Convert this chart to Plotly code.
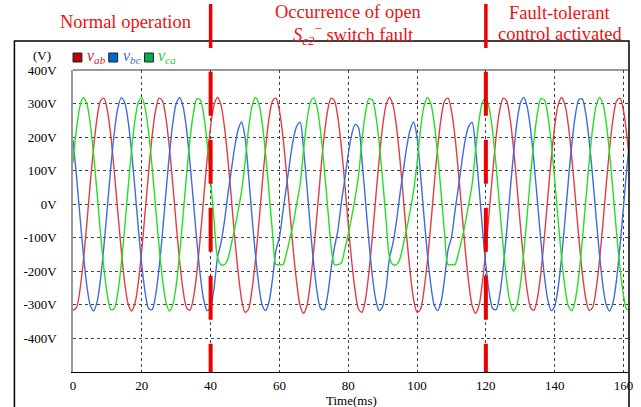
import plotly.graph_objects as go

# ---------------- data ----------------
time_ms = list(range(0, 163))  # 1 ms sampling grid

v_ab = [
    -316, -308, -257, -170, -60, 60, 170, 257, 308, 316,
    279, 203, 98, -20, -135, -232, -296, -318, -296, -232,
    -135, -20, 98, 203, 279, 316, 308, 257, 170, 60,
    -60, -170, -257, -308, -316, -279, -203, -98, 20, 135,
    232, 296, 318, 296, 232, 135, 20, -98, -203, -284,
    -322, -313, -257, -170, -60, 60, 170, 257, 308, 316,
    279, 203, 98, -20, -135, -232, -302, -325, -302, -232,
    -135, -20, 98, 203, 279, 316, 308, 257, 170, 60,
    -60, -170, -257, -313, -322, -284, -203, -98, 20, 135,
    232, 296, 318, 296, 232, 135, 20, -98, -203, -284,
    -322, -313, -257, -170, -60, 60, 170, 257, 308, 316,
    279, 203, 98, -20, -135, -232, -302, -325, -302, -232,
    -135, -20, 98, 203, 279, 316, 308, 257, 170, 60,
    -60, -170, -257, -308, -316, -279, -203, -98, 20, 135,
    232, 296, 318, 296, 232, 135, 20, -98, -203, -279,
    -316, -308, -257, -170, -60, 60, 170, 257, 308, 316,
    279, 203, 98,
]

v_bc = [
    192, 86, -33, -147, -241, -300, -318, -291, -223, -123,
    -7, 111, 213, 285, 317, 304, 249, 159, 47, -73,
    -182, -265, -311, -314, -272, -192, -86, 33, 147, 241,
    300, 318, 291, 223, 123, 7, -111, -213, -285, -317,
    -305, -249, -159, -116, -52, 28, 100, 171, 222, 245,
    199, 90, -34, -148, -240, -301, -317, -290, -222, -136,
    -99, -23, 50, 125, 192, 232, 244, 166, 53, -72,
    -182, -265, -311, -314, -272, -193, -128, -77, 5, 74,
    149, 208, 238, 227, 130, 12, -111, -213, -285, -317,
    -305, -249, -159, -116, -52, 28, 100, 171, 222, 245,
    199, 90, -34, -148, -240, -301, -317, -290, -222, -136,
    -99, -23, 50, 125, 192, 232, 244, 166, 53, -72,
    -182, -265, -311, -314, -272, -192, -86, 33, 147, 241,
    300, 318, 291, 223, 123, 7, -111, -213, -285, -317,
    -304, -249, -159, -47, 73, 182, 265, 311, 314, 272,
    192, 86, -33, -147, -241, -300, -318, -291, -223, -123,
    -7, 111, 213,
]

v_ca = [
    123, 223, 291, 318, 300, 241, 147, 33, -86, -192,
    -272, -314, -311, -265, -182, -73, 47, 159, 249, 304,
    317, 285, 213, 111, -7, -123, -223, -291, -318, -300,
    -241, -147, -33, 86, 192, 272, 314, 311, 265, 182,
    73, -47, -159, -180, -180, -163, -120, -73, -19, 39,
    123, 223, 291, 318, 300, 241, 147, 33, -86, -180,
    -180, -180, -148, -105, -57, 0, 58, 159, 249, 304,
    317, 285, 213, 111, -7, -123, -180, -180, -175, -134,
    -89, -38, 19, 86, 192, 272, 314, 311, 265, 182,
    73, -47, -159, -180, -180, -163, -120, -73, -19, 39,
    123, 223, 291, 318, 300, 241, 147, 33, -86, -180,
    -180, -180, -148, -105, -57, 0, 58, 159, 249, 304,
    317, 285, 213, 111, -7, -123, -223, -291, -318, -300,
    -241, -147, -33, 86, 192, 272, 314, 311, 265, 182,
    73, -47, -159, -249, -304, -317, -285, -213, -111, 7,
    123, 223, 291, 318, 300, 241, 147, 33, -86, -192,
    -272, -314, -311,
]

y_ticks = [400, 300, 200, 100, 0, -100, -200, -300, -400]
y_tick_labels = ["400V", "300V", "200V", "100V", "0V", "-100V", "-200V", "-300V", "-400V"]
x_ticks = [0, 20, 40, 60, 80, 100, 120, 140, 160]
event_times = [40, 120]   # fault occurrence, fault-tolerant control

series_names = ["v_ab", "v_bc", "v_ca"]
line_colors = ["#e23c44", "#3d6be0", "#22e022"]
box_colors = ["#c00000", "#0066cc", "#00b050"]
label_colors = ["#e8102a", "#3a6fd8", "#10c83c"]
legend_html = ["<i>v</i><sub><i>ab</i></sub>", "<i>v</i><sub><i>bc</i></sub>", "<i>v</i><sub><i>ca</i></sub>"]

assert len(time_ms) == len(v_ab) == len(v_bc) == len(v_ca)

# ---------------- layout geometry (pixels) ----------------
W, H = 641, 407
L, R, T, B = 73, 8, 70, 35
PW, PH = W - L - R, H - T - B
SERIF = "Liberation Serif"


def px(x):
    return (x - L) / PW


def py(y):
    return (H - B - y) / PH


fig = go.Figure()
for name, ys, col in zip(series_names, [v_ab, v_bc, v_ca], line_colors):
    fig.add_trace(go.Scatter(
        x=time_ms, y=ys, mode="lines", name=name, showlegend=False,
        line=dict(color=col, width=1.4, shape="spline", smoothing=0.8),
        hoverinfo="skip",
    ))

shapes = []
# outer frame
shapes.append(dict(type="rect", xref="paper", yref="paper",
                   x0=px(14), x1=px(633), y0=py(412), y1=py(41),
                   line=dict(color="black", width=1.5), fillcolor="rgba(0,0,0,0)"))
# top border of the plot
shapes.append(dict(type="line", xref="paper", yref="paper",
                   x0=0, x1=px(633), y0=1, y1=1,
                   line=dict(color="#333333", width=1)))
# event markers
for et in event_times:
    shapes.append(dict(type="line", xref="x", yref="paper",
                       x0=et, x1=et, y0=py(4), y1=py(48),
                       line=dict(color="#ee0000", width=3.5)))
    shapes.append(dict(type="line", xref="x", yref="y",
                       x0=et, x1=et, y0=395, y1=-500,
                       line=dict(color="#ee0000", width=4, dash="44px,24px")))

annotations = []
# legend boxes and labels
leg_x = [73, 109, 145]
for lx, bc, lc, txt in zip(leg_x, box_colors, label_colors, legend_html):
    shapes.append(dict(type="rect", xref="paper", yref="paper",
                       x0=px(lx), x1=px(lx + 9), y0=py(62), y1=py(53),
                       line=dict(color="#222222", width=1), fillcolor=bc))
    annotations.append(dict(xref="paper", yref="paper", x=px(lx + 12), y=py(57),
                            xanchor="left", yanchor="middle", showarrow=False,
                            text=txt, font=dict(family=SERIF, size=16, color=lc)))

annotations.append(dict(xref="paper", yref="paper", x=px(42), y=py(55),
                        xanchor="center", yanchor="middle", showarrow=False,
                        text="(V)", font=dict(family=SERIF, size=13, color="black")))
annotations.append(dict(xref="paper", yref="paper", x=0.5, y=py(400),
                        xanchor="center", yanchor="middle", showarrow=False,
                        text="Time(ms)", font=dict(family=SERIF, size=13, color="black")))

RED = "#ee1111"
top_texts = [
    ("Normal operation", 126, 22),
    ("Occurrence of open", 350, 12),
    ("<i>S</i><sub><i>c2</i></sub><sup>\u2212</sup> switch fault", 356, 35),
    ("Fault-tolerant", 564, 13),
    ("control activated", 564, 34),
]
for txt, x, y in top_texts:
    annotations.append(dict(xref="paper", yref="paper", x=px(x), y=py(y),
                            xanchor="center", yanchor="middle", showarrow=False,
                            text=txt, font=dict(family=SERIF, size=18.5, color=RED)))

fig.update_layout(
    width=W, height=H,
    margin=dict(l=L, r=R, t=T, b=B, pad=0),
    paper_bgcolor="white", plot_bgcolor="white",
    shapes=shapes, annotations=annotations,
    showlegend=False,
)
fig.update_xaxes(
    range=[0, 161.6], tickvals=x_ticks, ticktext=[str(v) for v in x_ticks],
    showgrid=True, gridcolor="#444444", griddash="dot", gridwidth=1,
    zeroline=False, showline=True, linecolor="black", linewidth=1,
    ticks="", ticklabelstandoff=1,
    tickfont=dict(family=SERIF, size=13, color="black"),
)
fig.update_yaxes(
    range=[-500, 400], tickvals=y_ticks, ticktext=y_tick_labels,
    showgrid=True, gridcolor="#444444", griddash="dot", gridwidth=1,
    zeroline=False, showline=True, linecolor="#999999", linewidth=1.5,
    ticks="", ticklabelstandoff=12,
    tickfont=dict(family=SERIF, size=13, color="black"),
)

fig.write_html("out.html", config={"displayModeBar": False})
